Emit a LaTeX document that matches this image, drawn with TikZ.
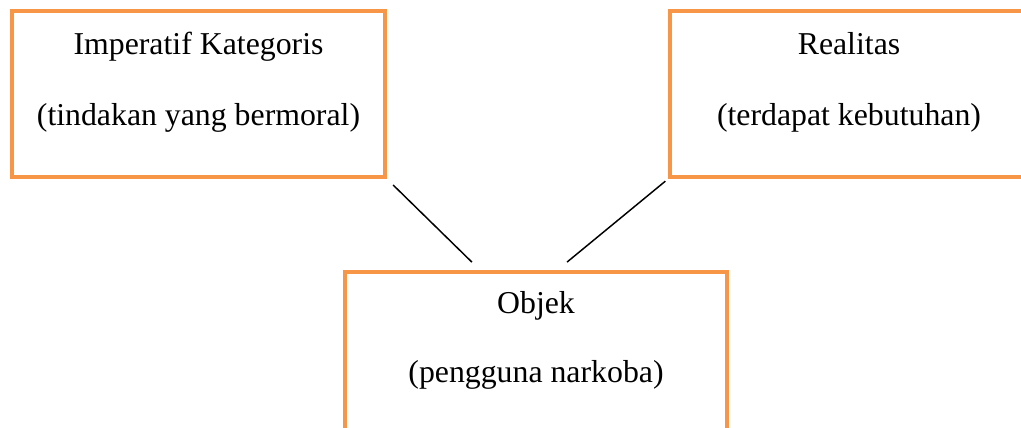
\documentclass[tikz,border=0pt]{standalone}
\usepackage{fontspec}
\setmainfont{Liberation Serif}
\usetikzlibrary{calc}
\definecolor{boxorange}{HTML}{F79646}

\begin{document}
\begin{tikzpicture}[
            x=0.75pt, y=-0.75pt,
            box/.style={draw=boxorange, line width=3pt, rectangle, inner sep=0pt},
            txt/.style={anchor=base, inner sep=0pt},
            con/.style={line width=1.1pt},
            font={\fontsize{23.85pt}{28pt}\selectfont}
        ]
        \useasboundingbox (0,0) rectangle (1021,428);
        \clip (0,0) rectangle (1021,428);
        % boxes, size given in pt (1px = 0.75pt)
        \node[box, minimum width=279.75pt, minimum height=124.5pt] (imp) at (198.5,94) {};
        \node[box, minimum width=268.5pt, minimum height=124.5pt] (real) at (849,94) {};
        \node[box, minimum width=286.5pt, minimum height=150pt] (obj) at (536,372) {};
        % texts, placed on their baselines
        \node[txt] (impA) at (198.5,55) {Imperatif Kategoris};
        \node[txt] (impB) at (198.5,125) {(tindakan yang bermoral)};
        \node[txt] (realA) at (849,55) {Realitas};
        \node[txt] (realB) at (849,125) {(terdapat kebutuhan)};
        \node[txt] (objA) at (536,313) {Objek};
        \node[txt] (objB) at (536,382) {(pengguna narkoba)};
        % connectors
        \coordinate (objL) at (482,272);
        \coordinate (objR) at (555,272);
        \draw[con, shorten <=6.4pt, shorten >=10.6pt] (imp.south east) -- (objL);
        \draw[con, shorten <=2.6pt, shorten >=11.7pt] (real.south west) -- (objR);
    \end{tikzpicture}
\end{document}
